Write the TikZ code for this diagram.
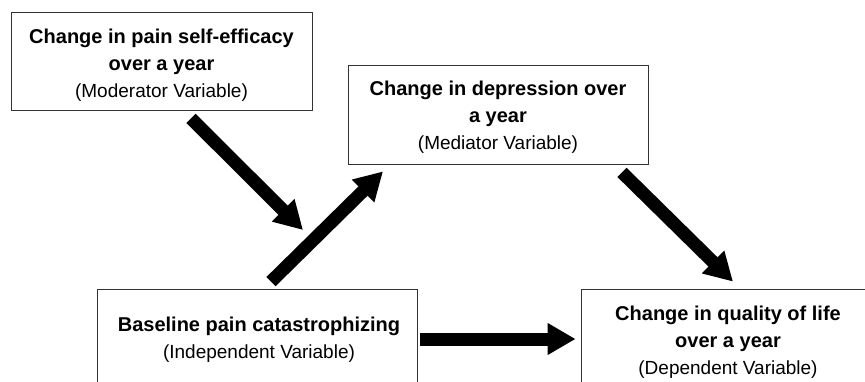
\documentclass[tikz,border=0pt]{standalone}
\usepackage{fontspec}
\setmainfont{Liberation Sans}
\usetikzlibrary{arrows.meta, positioning}

\newcommand{\varname}[1]{{\fontsize{20}{27}\selectfont\bfseries #1}}

\tikzset{
  varbox/.style={draw=black!80, line width=0.8pt, inner sep=0pt},
  vartext/.style={align=center, inner sep=0pt, font=\fontsize{19}{27}\selectfont},
  bigarrow/.style={line width=13pt, -{Triangle[length=28pt, width=30pt]}},
}

\begin{document}
\begin{tikzpicture}[x=1pt, y=-1pt]
  \useasboundingbox (0,0) rectangle (865,381);
  % variable boxes
  \node[varbox, minimum width=301pt, minimum height=98pt] (mod) at (161.5,61) {};
  \node[varbox, minimum width=300pt, minimum height=99pt] (med) at (498,114.5) {};
  \node[varbox, minimum width=320pt, minimum height=100pt] (ind) at (257,339) {};
  \node[varbox, minimum width=304pt, minimum height=100pt] (dep) at (733,339) {};
  % box texts
  \node[vartext] (modtext) at (161.5,65)
    {\varname{Change in pain self-efficacy}\\\varname{over a year}\\(Moderator Variable)};
  \node[vartext] (medtext) at (498,117.5)
    {\varname{Change in depression over}\\\varname{a year}\\(Mediator Variable)};
  \node[vartext] (indtext) at (259,340)
    {\varname{Baseline pain catastrophizing}\\(Independent Variable)};
  \node[vartext] (deptext) at (728,342.5)
    {\varname{Change in quality of life}\\\varname{over a year}\\(Dependent Variable)};
  % moderation point
  \coordinate (moder) at (303,230);
  % arrows
  \draw[bigarrow] ([xshift=29.5pt, yshift=-8pt]mod.south) -- (moder);
  \draw[bigarrow] ([xshift=14pt, yshift=7pt]ind.north) -- ([xshift=-115pt, yshift=-7pt]med.south);
  \draw[bigarrow] ([xshift=124pt, yshift=-8pt]med.south) -- ([xshift=0pt, yshift=7pt]dep.north);
  \draw[bigarrow] ([xshift=3pt]ind.east) -- ([xshift=-5pt]dep.west);
\end{tikzpicture}
\end{document}
